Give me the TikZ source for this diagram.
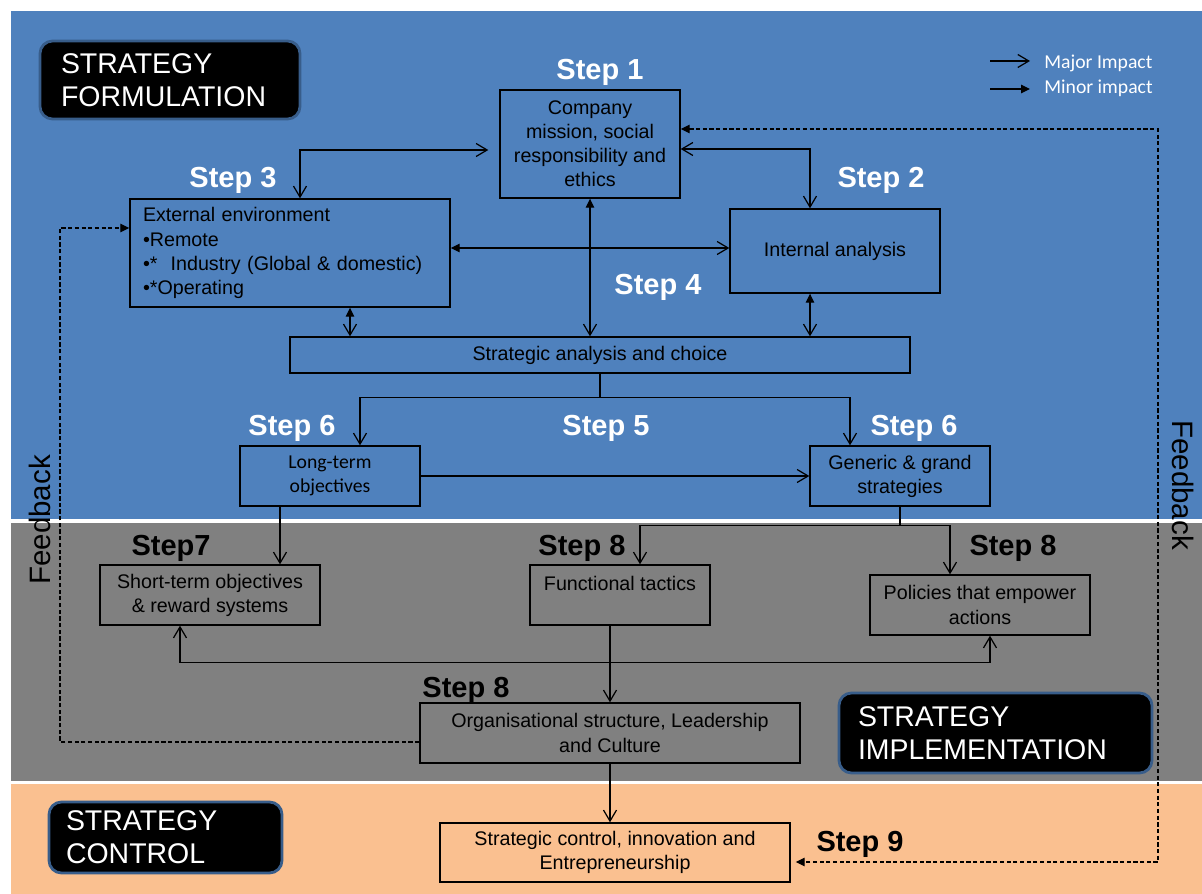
\documentclass[tikz,border=0pt]{standalone}
\usepackage{fontspec}
\setmainfont{Liberation Sans}
\newfontfamily\calibri{Carlito}
\usetikzlibrary{arrows.meta}
\definecolor{formblue}{HTML}{4F81BD}
\definecolor{implgray}{HTML}{808080}
\definecolor{ctrlpeach}{HTML}{FAC090}
\definecolor{tagedge}{HTML}{385D8A}
\tikzset{
  >={Straight Barb[length=2.2mm,width=2.6mm]},
  tri/.tip={Triangle[length=1.8mm,width=1.7mm]},
  stepbox/.style={draw,line width=0.8pt,align=center,inner sep=0pt,font=\fontsize{11.2}{13.7}\selectfont},
  stagetag/.style={fill=black,draw=tagedge,line width=1.6pt,rounded corners=2.5mm,text=white,align=left,inner ysep=0pt,font=\fontsize{16.2}{18.8}\selectfont},
  steplabel/.style={font=\bfseries\fontsize{16.5}{18}\selectfont},
  link/.style={line width=0.7pt},
  feedback/.style={link,dash pattern=on 2.4pt off 1.4pt},
  legendtext/.style={anchor=west,inner sep=0pt,font=\calibri\fontsize{11.2}{13}\selectfont,text=white}
}
\begin{document}
\begin{tikzpicture}
        \useasboundingbox (0,0) rectangle (24.04,-17.88);
        \fill[white] (0,0) rectangle (24.04,-17.88);
        % the three stages
        \fill[formblue] (0.22,-0.22) rectangle (24.04,-10.38);
        \fill[implgray] (0.22,-10.46) rectangle (24.04,-15.62);
        \fill[ctrlpeach] (0.22,-15.68) rectangle (24.04,-17.88);

        \node[stagetag,minimum width=5.2cm,minimum height=1.56cm,text width=4.36cm] (formtag) at (3.4,-1.6) {STRATEGY\\FORMULATION};
        \node[stagetag,minimum width=6.26cm,minimum height=1.6cm,text width=5.5cm] (impltag) at (19.91,-14.66) {STRATEGY\\IMPLEMENTATION};
        \node[stagetag,minimum width=4.66cm,minimum height=1.42cm,text width=3.98cm] (ctrltag) at (3.31,-16.75) {STRATEGY\\CONTROL};

        % legend
        \coordinate (majA) at (19.8,-1.22);
        \coordinate (majB) at (20.6,-1.22);
        \coordinate (minA) at (19.8,-1.78);
        \coordinate (minB) at (20.6,-1.78);
        \draw[link,->] (majA) -- (majB);
        \draw[link,-tri] (minA) -- (minB);
        \node[legendtext] (majtext) at (20.88,-1.27) {Major Impact};
        \node[legendtext] (mintext) at (20.88,-1.76) {Minor impact};

        % boxes
        \node[stepbox,minimum width=3.6cm,minimum height=2.16cm] (mission) at (11.8,-2.88) {Company\\mission, social\\responsibility and\\ethics};
        \node[stepbox,minimum height=2.16cm,text width=5.88cm,inner xsep=0.26cm,align=left] (external) at (5.8,-5.06) {External environment\\•Remote\\•*\ \ Industry (Global \& domestic)\\•*Operating};
        \node[stepbox,minimum width=4.2cm,minimum height=1.68cm] (internal) at (16.7,-5.02) {Internal analysis};
        \node[stepbox,minimum width=12.4cm,minimum height=0.72cm] (choice) at (12,-7.1) {Strategic analysis and choice};
        \node[stepbox,minimum width=3.6cm,minimum height=1.2cm,font=\calibri\fontsize{11.2}{13.7}\selectfont] (longterm) at (6.6,-9.52) {Long-term\\objectives};
        \node[stepbox,minimum width=3.6cm,minimum height=1.2cm] (generic) at (18,-9.52) {Generic \& grand\\strategies};
        \node[stepbox,minimum width=4.4cm,minimum height=1.2cm] (shortterm) at (4.2,-11.9) {Short-term objectives\\\& reward systems};
        \node[stepbox,minimum width=3.6cm,minimum height=1.2cm] (tactics) at (12.4,-11.9) {Functional tactics\\\mbox{}};
        \node[stepbox,minimum width=4.4cm,minimum height=1.2cm] (policies) at (19.6,-12.1) {Policies that empower\\actions};
        \node[stepbox,minimum width=7.6cm,minimum height=1.2cm] (org) at (12.2,-14.66) {Organisational structure, Leadership\\and Culture};
        \node[stepbox,minimum width=7cm,minimum height=1.18cm] (control) at (12.3,-17.05) {Strategic control, innovation and\\Entrepreneurship};

        % step labels
        \node[steplabel,text=white] (s1) at (12,-1.44) {Step 1};
        \node[steplabel,text=white] (s3) at (4.66,-3.6) {Step 3};
        \node[steplabel,text=white] (s2) at (17.62,-3.6) {Step 2};
        \node[steplabel,text=white] (s4) at (13.16,-5.74) {Step 4};
        \node[steplabel,text=white] (s6a) at (5.84,-8.56) {Step 6};
        \node[steplabel,text=white] (s5) at (12.12,-8.56) {Step 5};
        \node[steplabel,text=white] (s6b) at (18.28,-8.56) {Step 6};
        \node[steplabel] (s7) at (3.42,-10.96) {Step7};
        \node[steplabel] (s8a) at (11.64,-10.96) {Step 8};
        \node[steplabel] (s8b) at (20.26,-10.96) {Step 8};
        \node[steplabel] (s8c) at (9.32,-13.8) {Step 8};
        \node[steplabel] (s9) at (17.2,-16.88) {Step 9};

        % feedback
        \node[rotate=90,font=\fontsize{16.8}{18}\selectfont] (fbltext) at (0.8,-10.4) {Feedback};
        \node[rotate=-90,font=\fontsize{16.8}{18}\selectfont] (fbrtext) at (23.66,-9.7) {Feedback};
        \coordinate (fbleft) at (1.2,-10);
        \coordinate (fbright) at (23.16,-10);
        \draw[feedback,->,>=tri] ([yshift=-1.8mm]org.west) -| (fbleft) |- ([yshift=5mm]external.west);
        \draw[feedback,tri-tri,shorten >=1mm] ([yshift=3mm]mission.east) -| (fbright) |- ([yshift=-1.9mm]control.east);

        % formulation links
        \draw[link,<->,shorten >=2.2mm] ([xshift=2mm]external.north) |- ([yshift=-1.2mm]mission.west);
        \draw[link,<->] ([yshift=-1mm]mission.east) -| ([xshift=-5mm]internal.north);
        \draw[link,tri->] (mission.south) -- (mission.south |- choice.north);
        \draw[link,tri->] ([yshift=1mm]external.east) -- ([yshift=1mm]external.east -| internal.west);
        \draw[link,tri->] ([xshift=12mm]external.south) -- ([xshift=12mm]external.south |- choice.north);
        \draw[link,tri->] ([xshift=-5mm]internal.south) -- ([xshift=-5mm]internal.south |- choice.north);
        \draw[link,->] (choice.south) -- ++(0,-0.48) -| ([xshift=6mm]longterm.north);
        \draw[link,->] (choice.south) -- ++(0,-0.48) -| ([xshift=-10mm]generic.north);
        \draw[link,->] (longterm) -- (generic);

        % implementation links
        \draw[link,->] ([xshift=-10mm]longterm.south) -- ([xshift=-10mm]longterm.south |- shortterm.north);
        \draw[link,->] (generic.south) -- ++(0,-0.38) -| ([xshift=4mm]tactics.north);
        \draw[link,->] (generic.south) -- ++(0,-0.38) -| ([xshift=-6mm]policies.north);
        \draw[link,<->] ([xshift=-6mm]shortterm.south) -- ++(0,-0.74) -| ([xshift=2mm]policies.south);
        \draw[link,->] (org.north |- tactics.south) -- (org.north);
        \draw[link,->] (org.south) -- (org.south |- control.north);
    \end{tikzpicture}
\end{document}
